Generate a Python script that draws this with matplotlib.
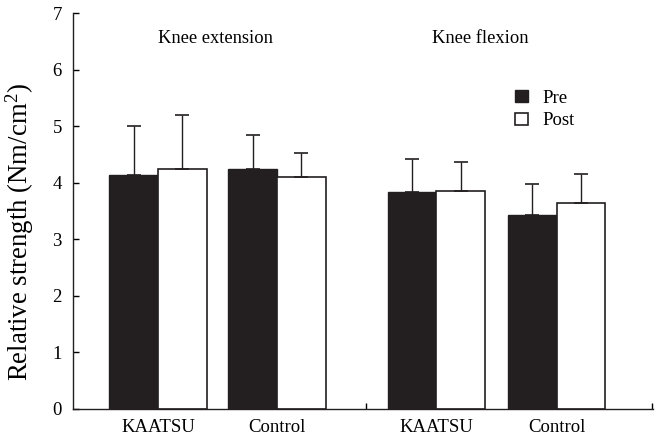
import matplotlib
matplotlib.use("Agg")
import matplotlib.pyplot as plt
import numpy as np

plt.rcParams['font.family'] = ['Liberation Serif', 'DejaVu Serif']
plt.rcParams['mathtext.fontset'] = 'custom'
plt.rcParams['mathtext.rm'] = 'Liberation Serif'
plt.rcParams['mathtext.it'] = 'Liberation Serif:italic'

categories = ["KAATSU", "Control", "KAATSU", "Control"]
group_titles = ["Knee extension", "Knee flexion"]
pre_mean = [4.13, 4.25, 3.84, 3.43]
pre_sd = [0.88, 0.60, 0.58, 0.55]
post_mean = [4.25, 4.10, 3.86, 3.64]
post_sd = [0.95, 0.43, 0.51, 0.51]
series_labels = ["Pre", "Post"]

positions = np.array([1.0, 2.0, 3.34, 4.35])
width = 0.41

fig = plt.figure(figsize=(6.57, 4.36), dpi=100)
ax = fig.add_axes([0.111, 0.062, 0.883, 0.908])

dark = "#231f20"
err_kw = dict(ecolor=dark, elinewidth=1.0, capsize=5, capthick=1.2)
ax.bar(positions - width / 2, pre_mean, width, color=dark, edgecolor=dark,
       linewidth=1.0, yerr=[np.zeros(4), pre_sd], error_kw=err_kw,
       label=series_labels[0], zorder=2)
ax.bar(positions + width / 2, post_mean, width, color="white", edgecolor=dark,
       linewidth=1.2, yerr=[np.zeros(4), post_sd], error_kw=err_kw,
       label=series_labels[1], zorder=2)

ax.set_xlim(0.286, 5.16)
ax.set_ylim(0, 7)
ax.set_yticks(range(8))
ax.set_xticks(positions)
ax.set_xticklabels(categories, fontsize=13.5)
ax.tick_params(axis='x', length=0, pad=7)
ax.set_xticks([2.75, 5.15], minor=True)
ax.tick_params(axis='x', which='minor', direction='in', length=4, width=1)
ax.tick_params(axis='y', direction='in', length=4, width=1, labelsize=13.5, pad=8)

for s in ['top', 'right']:
    ax.spines[s].set_visible(False)
for s in ['left', 'bottom']:
    ax.spines[s].set_linewidth(1.0)
    ax.spines[s].set_color(dark)

ax.set_ylabel("Relative strength (Nm/cm$^{2}$)", fontsize=19.3)
ax.yaxis.set_label_coords(-0.064, 0.447)

ax.text(1.48, 6.55, group_titles[0], ha='center', va='center', fontsize=13.3)
ax.text(3.71, 6.55, group_titles[1], ha='center', va='center', fontsize=13.3)

leg = ax.legend(loc='upper left', bbox_to_anchor=(0.739, 0.84), frameon=False,
                fontsize=13.5, handlelength=0.7, handleheight=0.6,
                handletextpad=0.75, labelspacing=0.3, borderpad=0.2)

fig.savefig("out.png", dpi=100)
